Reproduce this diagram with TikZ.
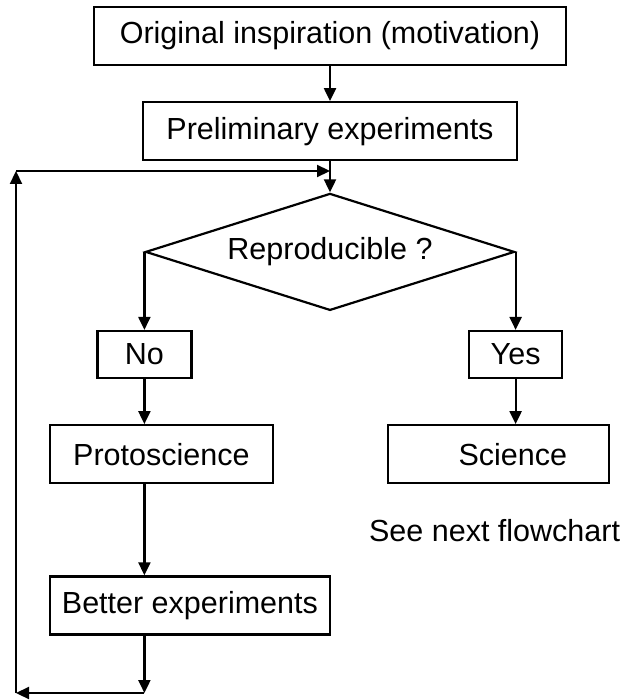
\documentclass[tikz,border=0pt]{standalone}
\usepackage{fontspec}
\setmainfont{Liberation Sans}
\usetikzlibrary{arrows.meta,positioning,shapes.geometric}

\begin{document}
\begin{tikzpicture}[x=1pt,y=-1pt,
  box/.style={draw,line width=2.2pt,minimum height=58pt,inner sep=0pt},
  decision/.style={draw,diamond,line width=2.2pt,aspect=3.15,minimum width=369pt,minimum height=117pt,inner sep=0pt},
  flow/.style={-{Triangle[length=13pt,width=12pt]},line width=2.2pt},
  font=\fontsize{30.5}{36}\selectfont]
\useasboundingbox (0,0) rectangle (625,700);
\node[box,minimum width=472pt] (orig) at (330,36) {Original inspiration (motivation)};
\node[box,minimum width=374pt,below=35pt of orig] (prelim) {Preliminary experiments};
\node[decision,below=31pt of prelim] (repro) {Reproducible ?};
\node[box,minimum width=94pt,minimum height=47pt,below=78pt of repro.west] (no) {No};
\node[box,minimum width=93pt,minimum height=47pt,below=78pt of repro.east] (yes) {Yes};
\node[box,minimum width=223pt,below=45pt of no,xshift=17pt] (proto) {Protoscience};
\node[box,minimum width=280pt,below=91pt of proto.south west,anchor=north west] (better) {Better experiments};
\node[box,text width=137pt,align=right,inner xsep=42pt,below=45pt of yes,xshift=-17pt] (science) {Science};
\node[below=32pt of science,xshift=-4pt] (next) {See next flowchart};
% return loop
\coordinate (turn) at (no |- 0,693);
\coordinate (corner) at (16,693);
\coordinate (top) at (16,171);
\coordinate (join) at (prelim |- 0,171);
\draw[flow] (orig) -- (prelim);
\draw[flow] (prelim) -- (repro);
\draw[flow] (repro.west) -- (no);
\draw[flow] (repro.east) -- (yes);
\draw[flow] (no) -- (no |- proto.north);
\draw[flow] (no |- proto.south) -- (no |- better.north);
\draw[flow] (yes) -- (yes |- science.north);
\draw[flow] (no |- better.south) -- (turn);
\draw[flow] (turn) -- (corner);
\draw[flow] (corner) -- (top);
\draw[flow] (top) -- (join);
\end{tikzpicture}
\end{document}
